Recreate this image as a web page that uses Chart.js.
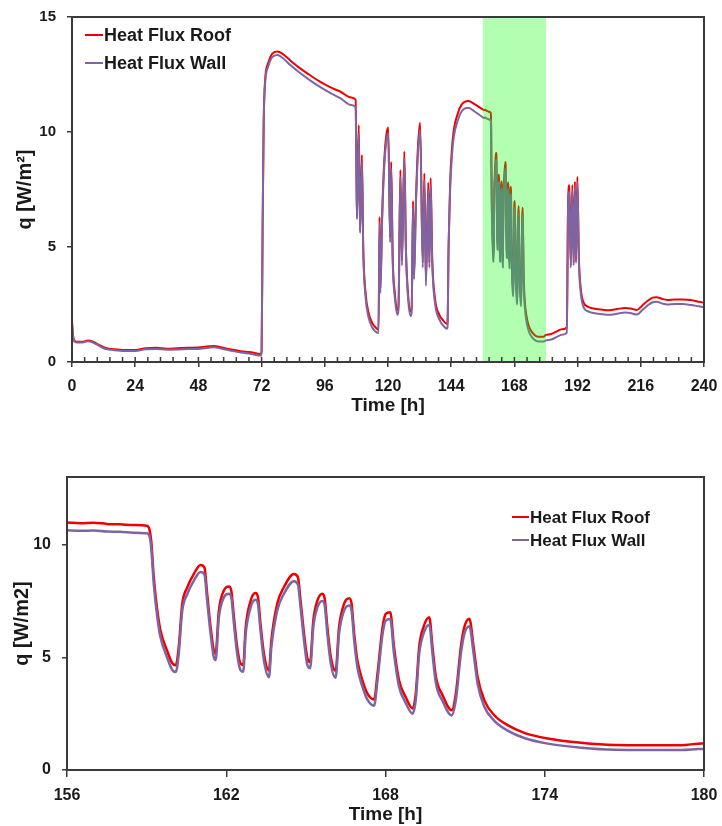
<!DOCTYPE html>
<html><head><meta charset="utf-8">
<script src="https://cdn.jsdelivr.net/npm/chart.js@4.4.1/dist/chart.umd.min.js"></script>
<style>
html,body{margin:0;padding:0;background:#fff;}
#top{position:absolute;left:0;top:0;width:722px;height:420px;}
#bot{position:absolute;left:0;top:455px;width:722px;height:371px;}
</style></head><body>
<div id="top"><canvas id="c1"></canvas></div>
<div id="bot"><canvas id="c2"></canvas></div>
<script>
// ---- Data ----
const seriesLabels = ['Heat Flux Roof', 'Heat Flux Wall'];
const seriesColors = ['rgb(238,0,0)', '#8064A2'];

// Top chart, 0 .. 156 h
const hoursA = [0,0.4,1,2,4,6,8,10,12,14,16,20,24,28,32,36,40,44,48,52,54,56,60,64,68,71.6,72.0,72.4,72.8,73.3,74.5,76,78,80,83,86,90,94,98,102,106,107.7,108.0,108.2,108.9,109.4,110.1,110.6,111.5,112.5,114,115.5,116.4,116.8,117.1,117.8,118.6,119.4,120.1,120.8,121.2,121.8,122.6,123.6,124.0,124.7,125.3,126.2,126.8,127.6,128.6,129.0,129.5,129.9,130.6,131.4,132.2,133.2,133.8,134.4,135.3,135.7,136.2,136.8,137.8,139.5,141,142.3,142.6,143.0,143.6,144.3,145,146.5,148,150.5,153];
const roofA = [1.75,1.15,0.92,0.88,0.88,0.93,0.88,0.76,0.64,0.58,0.55,0.52,0.52,0.60,0.62,0.58,0.60,0.62,0.63,0.68,0.70,0.65,0.55,0.47,0.42,0.35,0.45,6.00,10.50,12.20,13.00,13.40,13.50,13.40,13.10,12.82,12.50,12.20,11.95,11.75,11.50,11.40,8.50,6.30,10.30,5.70,9.00,5.00,3.00,2.20,1.70,1.48,1.40,6.30,3.20,6.50,8.80,9.90,10.20,5.40,8.70,4.50,3.00,2.25,2.50,8.35,4.40,9.15,5.00,3.00,2.20,2.40,7.00,3.80,7.00,9.40,10.40,4.30,8.20,3.50,7.80,4.30,8.00,4.50,2.80,2.05,1.80,1.66,1.70,5.00,7.80,9.30,10.10,10.80,11.20,11.35,11.20];
const wallA = [1.70,1.10,0.88,0.85,0.85,0.90,0.84,0.72,0.60,0.54,0.51,0.48,0.48,0.55,0.57,0.53,0.54,0.56,0.57,0.62,0.64,0.60,0.50,0.41,0.35,0.28,0.40,6.10,10.40,12.05,12.85,13.25,13.35,13.22,12.90,12.62,12.28,11.97,11.70,11.46,11.17,11.08,8.30,6.20,9.95,5.60,8.70,4.80,2.80,2.00,1.50,1.30,1.25,6.05,3.00,6.25,8.55,9.62,9.95,5.20,8.40,4.30,2.80,2.05,2.30,8.05,4.20,8.85,4.80,2.80,2.00,2.20,6.70,3.60,6.78,9.12,10.10,4.10,7.90,3.30,7.50,4.10,7.70,4.30,2.60,1.85,1.58,1.45,1.50,4.80,7.50,9.00,9.80,10.50,10.90,11.05,10.88];

// Zoomed period 156 .. 180 h (bottom chart, also part of the top chart)
const hoursZoom = [156.0,156.5,157.0,157.5,158.0,158.5,159.0,159.1,159.17,159.27,159.4,159.52,159.77,159.96,160.1,160.21,160.34,160.53,160.78,161.03,161.18,161.28,161.41,161.53,161.6,161.72,161.91,162.1,162.19,162.29,162.41,162.54,162.64,162.73,162.92,163.1,163.19,163.29,163.42,163.61,163.7,163.92,164.17,164.55,164.7,164.8,164.93,165.06,165.16,165.28,165.43,165.62,165.71,165.81,165.94,166.12,166.25,166.44,166.63,166.72,166.82,166.94,167.13,167.32,167.57,167.7,167.89,168.01,168.18,168.32,168.51,168.76,169.02,169.14,169.27,169.43,169.65,169.77,169.9,170.15,170.49,170.65,170.84,170.97,171.16,171.32,171.47,171.72,172.1,172.6,173.23,174.11,175.37,176.63,177.88,179.14,179.77,180.0];
const roofZoom = [10.98,10.95,10.97,10.92,10.90,10.87,10.84,10.70,10.20,8.55,7.10,6.20,5.30,4.75,4.65,5.45,7.35,8.10,8.70,9.10,8.98,7.82,6.34,5.31,5.16,7.05,7.96,8.14,7.95,6.78,5.46,4.72,4.66,6.30,7.52,7.85,7.70,6.49,5.16,4.42,5.75,7.37,8.11,8.70,8.55,7.52,6.05,4.94,4.79,6.64,7.50,7.82,7.60,6.34,5.01,4.39,6.34,7.37,7.62,7.40,6.05,4.87,3.98,3.39,3.13,4.29,6.34,6.93,7.00,5.46,3.98,3.24,2.73,3.39,5.46,6.34,6.78,5.46,4.13,3.32,2.65,3.39,5.46,6.34,6.71,5.46,4.13,3.10,2.43,1.99,1.65,1.40,1.21,1.11,1.10,1.10,1.17,1.18];
const wallZoom = [10.64,10.61,10.63,10.58,10.57,10.53,10.50,10.40,9.90,8.25,6.80,5.90,5.00,4.45,4.35,5.15,7.05,7.80,8.40,8.78,8.66,7.52,6.04,5.01,4.88,6.75,7.66,7.82,7.65,6.48,5.16,4.42,4.36,6.00,7.22,7.55,7.40,6.19,4.86,4.12,5.45,7.07,7.81,8.38,8.23,7.22,5.75,4.64,4.52,6.34,7.20,7.50,7.30,6.04,4.71,4.09,6.04,7.07,7.30,7.10,5.75,4.57,3.70,3.12,2.85,4.00,6.04,6.63,6.70,5.16,3.70,2.98,2.50,3.10,5.16,6.04,6.45,5.16,3.85,3.06,2.42,3.10,5.16,6.04,6.38,5.16,3.83,2.82,2.18,1.75,1.42,1.17,0.99,0.90,0.89,0.89,0.93,0.94];

// Top chart, 180 .. 240 h
const hoursB = [182,184,186,187.9,188.4,188.9,189.4,190.0,190.5,191.0,191.4,191.9,192.5,193.2,194.2,196,198,201,204,207,210,212,214.5,216.5,218.5,220.5,222,224,226,229,232,235,238,240];
const roofB = [1.22,1.32,1.42,1.52,7.00,7.70,4.20,7.70,4.30,7.85,4.40,8.05,4.50,3.20,2.60,2.40,2.33,2.28,2.25,2.30,2.35,2.33,2.26,2.45,2.65,2.80,2.82,2.75,2.70,2.72,2.72,2.70,2.62,2.58];
const wallB = [0.98,1.08,1.18,1.28,6.75,7.40,4.10,7.45,4.20,7.60,4.30,7.80,4.30,3.00,2.40,2.20,2.13,2.08,2.05,2.10,2.15,2.13,2.06,2.25,2.45,2.60,2.62,2.55,2.50,2.52,2.52,2.48,2.42,2.38];

const highlightRange = [156, 180];
const topXTicks = [0, 240, 24];      // min, max, step
const topYTicks = [0, 15, 5];
const botXTicks = [156, 180, 6];
const botYTicks = [0, 5, 10];
const botYMax = 13;
const minorPerMajor = 5;

// ---- Build library data ----
const hoursTop = hoursA.concat(hoursZoom, hoursB);
const roofTop = roofA.concat(roofZoom, roofB);
const wallTop = wallA.concat(wallZoom, wallB);
const pts = (xs, ys) => xs.map((x, i) => ({x: x, y: ys[i]}));

const FONT = "'Liberation Sans', Arial, sans-serif";
const INK = '#1a1a1a';
const AXIS = '#3a3a3a';

const extras = {
  id: 'extras',
  afterDatasetsDraw(chart, args, o) {
    if (!o.band) return;
    const {ctx, chartArea: a, scales: {x}} = chart;
    const x0 = x.getPixelForValue(o.band[0]), x1 = x.getPixelForValue(o.band[1]);
    ctx.save();
    ctx.fillStyle = 'rgba(0,255,0,0.30)';
    ctx.fillRect(x0, a.top, x1 - x0, a.bottom - a.top);
    ctx.restore();
  },
  afterDraw(chart, args, o) {
    const {ctx, chartArea: a, scales: {x}} = chart;
    ctx.save();
    ctx.strokeStyle = AXIS; ctx.lineWidth = 2;
    ctx.strokeRect(a.left, a.top, a.right - a.left, a.bottom - a.top);
    if (o.minorStep) {
      ctx.lineWidth = 1.5;
      for (let i = 0; ; i++) {
        const v = x.min + i * o.minorStep;
        if (v > x.max + 1e-6) break;
        const px = x.getPixelForValue(v);
        ctx.beginPath(); ctx.moveTo(px, a.bottom); ctx.lineTo(px, a.bottom - 5); ctx.stroke();
      }
    }
    const L = o.legend;
    ctx.font = L.font; ctx.textBaseline = 'middle'; ctx.textAlign = 'left';
    [0, 1].forEach((di, k) => {
      const ds = chart.data.datasets[di];
      const y = L.y + k * L.rowGap;
      ctx.strokeStyle = ds.borderColor; ctx.lineWidth = 2;
      ctx.beginPath(); ctx.moveTo(L.x, y); ctx.lineTo(L.x + L.lineLen, y); ctx.stroke();
      ctx.fillStyle = INK; ctx.fillText(ds.label, L.x + L.lineLen + 1, y + 1);
    });
    ctx.restore();
  }
};

function makeDatasets(xs, r, w, lw) {
  return [
    {label: seriesLabels[0], data: pts(xs, r), borderColor: seriesColors[0], backgroundColor: seriesColors[0],
     borderWidth: lw, pointRadius: 0, cubicInterpolationMode: 'monotone', order: 1},
    {label: seriesLabels[1], data: pts(xs, w), borderColor: seriesColors[1], backgroundColor: seriesColors[1],
     borderWidth: lw, pointRadius: 0, cubicInterpolationMode: 'monotone', order: 0}
  ];
}
const noPadX = (h) => s => { s.height = h; s.paddingLeft = 0; s.paddingRight = 0; };
const noPadY = (w) => s => { s.width = w; s.paddingTop = 0; s.paddingBottom = 0; };

// ---- Top chart ----
new Chart(document.getElementById('c1'), {
  type: 'line',
  data: {datasets: makeDatasets(hoursTop, roofTop, wallTop, 2)},
  plugins: [extras],
  options: {
    responsive: true, maintainAspectRatio: false, animation: false,
    layout: {padding: {left: 0, right: 18, top: 17, bottom: 0}},
    plugins: {
      legend: {display: false}, tooltip: {enabled: false},
      extras: {band: highlightRange, minorStep: topXTicks[2] / minorPerMajor,
        legend: {x: 85, y: 35, rowGap: 28, lineLen: 18, font: 'bold 18px ' + FONT}}
    },
    scales: {
      x: {type: 'linear', min: topXTicks[0], max: topXTicks[1],
        ticks: {stepSize: topXTicks[2], color: INK, font: {family: FONT, size: 16, weight: 'bold'}, padding: 10, maxRotation: 0},
        grid: {drawOnChartArea: false, drawTicks: true, tickLength: 5, color: AXIS, lineWidth: 1.5},
        border: {display: true, color: AXIS, width: 2},
        title: {display: true, text: 'Time [h]', color: INK, font: {family: FONT, size: 19, weight: 'bold'}, padding: {top: 0, bottom: 3}},
        afterFit: noPadX(58)
      },
      y: {min: topYTicks[0], max: topYTicks[1],
        ticks: {stepSize: topYTicks[2], color: INK, font: {family: FONT, size: 15, weight: 'bold'}, padding: 11},
        grid: {drawOnChartArea: false, drawTicks: true, tickLength: 5, color: AXIS, lineWidth: 1.5},
        border: {display: true, color: AXIS, width: 2},
        title: {display: true, text: 'q [W/m²]', color: INK, font: {family: FONT, size: 20, weight: 'bold'}, padding: {top: 13, bottom: 0}},
        afterFit: noPadY(72)
      }
    }
  }
});

// ---- Bottom chart ----
new Chart(document.getElementById('c2'), {
  type: 'line',
  data: {datasets: makeDatasets(hoursZoom, roofZoom, wallZoom, 2.5)},
  plugins: [extras],
  options: {
    responsive: true, maintainAspectRatio: false, animation: false,
    layout: {padding: {left: 0, right: 18, top: 22, bottom: 0}},
    plugins: {
      legend: {display: false}, tooltip: {enabled: false},
      extras: {legend: {x: 512, y: 62, rowGap: 23, lineLen: 17, font: 'bold 17px ' + FONT}}
    },
    scales: {
      x: {type: 'linear', min: botXTicks[0], max: botXTicks[1],
        ticks: {stepSize: botXTicks[2], color: INK, font: {family: FONT, size: 16, weight: 'bold'}, padding: 9, maxRotation: 0},
        grid: {drawOnChartArea: false, drawTicks: true, tickLength: 7, color: AXIS, lineWidth: 1.5},
        border: {display: true, color: AXIS, width: 2},
        title: {display: true, text: 'Time [h]', color: INK, font: {family: FONT, size: 19, weight: 'bold'}, padding: {top: 0, bottom: 0}},
        afterFit: noPadX(56)
      },
      y: {min: 0, max: botYMax,
        afterBuildTicks: s => { s.ticks = botYTicks.map(v => ({value: v})); },
        ticks: {color: INK, font: {family: FONT, size: 16, weight: 'bold'}, padding: 11},
        grid: {drawOnChartArea: false, drawTicks: true, tickLength: 5, color: AXIS, lineWidth: 1.5},
        border: {display: true, color: AXIS, width: 2},
        title: {display: true, text: 'q [W/m2]', color: INK, font: {family: FONT, size: 20, weight: 'bold'}, padding: {top: 10, bottom: 0}},
        afterFit: noPadY(67)
      }
    }
  }
});
</script>
</body></html>
